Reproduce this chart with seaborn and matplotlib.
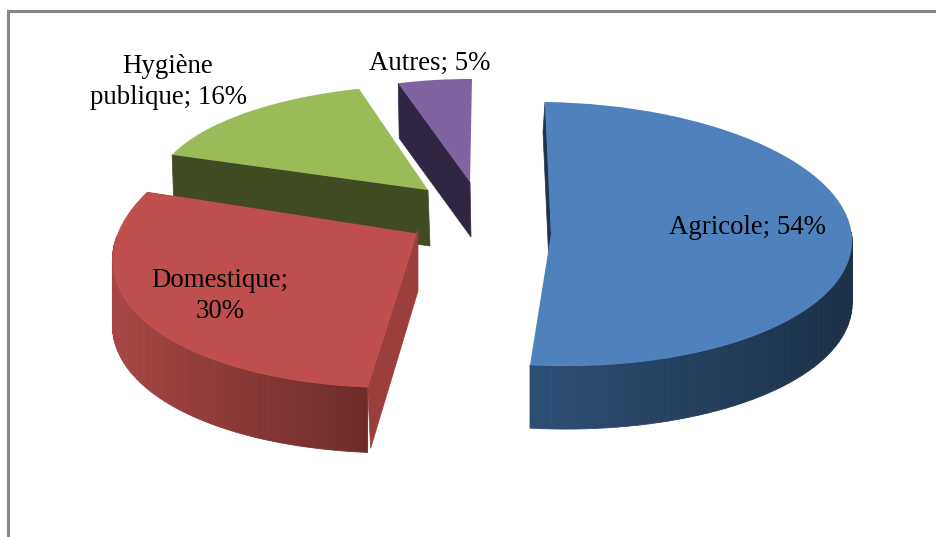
import numpy as np
import seaborn as sns
import matplotlib
matplotlib.use("Agg")
import matplotlib.pyplot as plt
from matplotlib.path import Path
from matplotlib.transforms import Affine2D

categories = ["Agricole", "Domestique", "Hygiène publique", "Autres"]
shares = [54, 30, 16, 5]  # the published labels add up to 105, the pie normalises them
label_texts = ["Agricole; 54%", "Domestique;\n30%", "Hygiène\npublique; 16%", "Autres; 5%"]

top_colors = ["#4f81bd", "#be4f4c", "#9bbb59", "#8064a2"]
# wall colours: (left end, right end) for the rim, flat colour for the cut face
rim_colors = [("#2d4e75", "#1c3147"), ("#a64644", "#6c2b2a"), ("#404b22", "#404b22"), ("#302642", "#302642")]
cut_colors = ["#1f344f", "#9b3f3d", "#404b22", "#302642"]

# per slice placement in pixels: apex, ellipse centre and squashed circle axes
apex = [(551, 234), (418, 230), (428, 190), (470, 182)]
centre = [(551, 234), (446, 238), (428, 190), (470, 182)]
axes_x = [(301, -6), (330, 49), (273, 12), (250, 2)]
axes_y = [(4, -132), (0, -150), (3, -105), (1, -103)]
depth = [63, 65, 56, 55]
cut_depth = [30, 61, 56, 55]
cut_shift = [-2, 3, 2, 1]
label_pos = [(747, 227), (220, 296), (168, 82), (430, 63)]

sns.set_theme(style="white")
plt.rcParams["font.family"] = ["Liberation Serif", "DejaVu Serif"]

fig = plt.figure(figsize=(9.36, 5.37), dpi=100)
ax = fig.add_axes([8 / 936, 0, 928 / 936, 526 / 537])

wedges, _ = ax.pie(shares, colors=top_colors, startangle=90, counterclock=False,
                   wedgeprops={"linewidth": 0})
ax.set_aspect("auto")
ax.set_frame_on(True)
ax.set_xlim(8, 936)
ax.set_ylim(537, 11)
ax.set_xticks([])
ax.set_yticks([])

# back to front so the nearer slices cover the walls of the others
for i in [3, 2, 1, 0]:
    wedge = wedges[i]
    ax0, ay0 = apex[i]
    matrix = np.array([[axes_x[i][0], axes_x[i][1], centre[i][0]],
                       [axes_y[i][0], axes_y[i][1], centre[i][1]],
                       [0, 0, 1]], dtype=float)
    wedge.set_transform(Affine2D(matrix) + ax.transData)
    wedge.set_zorder(10 * (4 - i) + 5)

    def point(deg):
        t = np.radians(deg)
        return matrix[:2] @ np.array([np.cos(t), np.sin(t), 1.0])

    # when the ellipse centre is not the apex, cut the wedge back to the apex
    # (pie makes its wedges with clip_on=False)
    if apex[i] != centre[i]:
        a = np.array(apex[i], dtype=float)
        sector = np.array([a, a + 5 * (point(wedge.theta1) - a),
                           a + 5 * (point((wedge.theta1 + wedge.theta2) / 2) - a),
                           a + 5 * (point(wedge.theta2) - a), a])
        wedge.set_clip_on(True)
        wedge.set_clip_path(Path(sector, closed=True), ax.transData)

    d = depth[i]
    thetas = np.linspace(wedge.theta1, wedge.theta2, 90)
    pts = np.array([point(t) for t in thetas])
    ramp = sns.blend_palette(rim_colors[i], 64)
    xlo, xhi = pts[:, 0].min(), pts[:, 0].max()
    for j in range(len(thetas) - 1):
        if np.sin(np.radians(thetas[j])) > 0.02:
            continue
        p, q = pts[j], pts[j + 1]
        col = ramp[int(63 * ((p[0] + q[0]) / 2 - xlo) / max(xhi - xlo, 1))]
        ax.fill([p[0], q[0], q[0], p[0]], [p[1], q[1], q[1] + d, p[1] + d],
                color=col, lw=0.6, zorder=10 * (4 - i))

    # the flat cut side that shows under the slice
    edge = point(wedge.theta2)
    dd = cut_depth[i]
    s = cut_shift[i]
    ax.fill([ax0, edge[0], edge[0] + s, ax0 + (0 if i == 1 else s)],
            [ay0, edge[1], edge[1] + dd, ay0 + dd],
            color=cut_colors[i], lw=0.5, zorder=10 * (4 - i) + 1)

    ax.text(label_pos[i][0], label_pos[i][1], label_texts[i], ha="center", va="center",
            fontsize=19.4, color="black", linespacing=1.3, zorder=100)

sns.despine(ax=ax, top=False, right=True, bottom=True)
for side in ["left", "top"]:
    ax.spines[side].set_color("#868686")
    ax.spines[side].set_linewidth(2.2)

fig.savefig("out.png", dpi=100)
